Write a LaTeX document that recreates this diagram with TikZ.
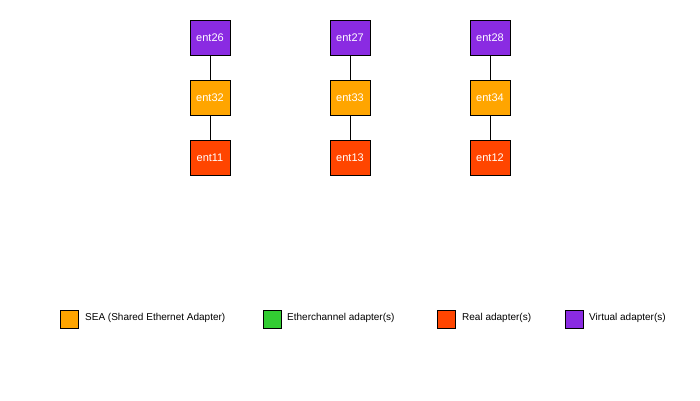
\documentclass[tikz,border=0pt]{standalone}
\usepackage{fontspec}
\setmainfont{Liberation Sans}
\definecolor{virt}{HTML}{8A2BE2}
\definecolor{sea}{HTML}{FFA500}
\definecolor{real}{HTML}{FF4500}
\definecolor{ethc}{HTML}{32CD32}
\begin{document}
\begin{tikzpicture}[x=1pt,y=-1pt,
  adapter/.style={draw=black,line width=0.8pt,minimum width=40pt,minimum height=35pt,inner sep=0pt,text=white,font=\fontsize{11}{13}\selectfont},
  legbox/.style={draw=black,line width=0.8pt,minimum width=18pt,minimum height=18pt,inner sep=0pt},
  legtext/.style={anchor=west,inner sep=0pt,font=\fontsize{10}{12}\selectfont},
  link/.style={draw=black,line width=0.8pt}]
\path[use as bounding box] (0,0) rectangle (700,400);
% column 1
\node[adapter,fill=virt] (e26) at (210,37.5) {\raisebox{-1.5pt}{ent26}};
\node[adapter,fill=sea] (e32) at (210,97.5) {\raisebox{-1.5pt}{ent32}};
\node[adapter,fill=real] (e11) at (210,157.5) {\raisebox{-1.5pt}{ent11}};
% column 2
\node[adapter,fill=virt] (e27) at (350,37.5) {\raisebox{-1.5pt}{ent27}};
\node[adapter,fill=sea] (e33) at (350,97.5) {\raisebox{-1.5pt}{ent33}};
\node[adapter,fill=real] (e13) at (350,157.5) {\raisebox{-1.5pt}{ent13}};
% column 3
\node[adapter,fill=virt] (e28) at (490,37.5) {\raisebox{-1.5pt}{ent28}};
\node[adapter,fill=sea] (e34) at (490,97.5) {\raisebox{-1.5pt}{ent34}};
\node[adapter,fill=real] (e12) at (490,157.5) {\raisebox{-1.5pt}{ent12}};
\draw[link] (e26) -- (e32);
\draw[link] (e32) -- (e11);
\draw[link] (e27) -- (e33);
\draw[link] (e33) -- (e13);
\draw[link] (e28) -- (e34);
\draw[link] (e34) -- (e12);
% legend
\node[legbox,fill=sea] (l1) at (69,319) {};
\node[legtext] (t1) at (85,318) {SEA (Shared Ethernet Adapter)};
\node[legbox,fill=ethc] (l2) at (272,319) {};
\node[legtext] (t2) at (287,318) {Etherchannel adapter(s)};
\node[legbox,fill=real] (l3) at (446,319) {};
\node[legtext] (t3) at (462,318) {Real adapter(s)};
\node[legbox,fill=virt] (l4) at (574,319) {};
\node[legtext] (t4) at (589,318) {Virtual adapter(s)};
\end{tikzpicture}
\end{document}
